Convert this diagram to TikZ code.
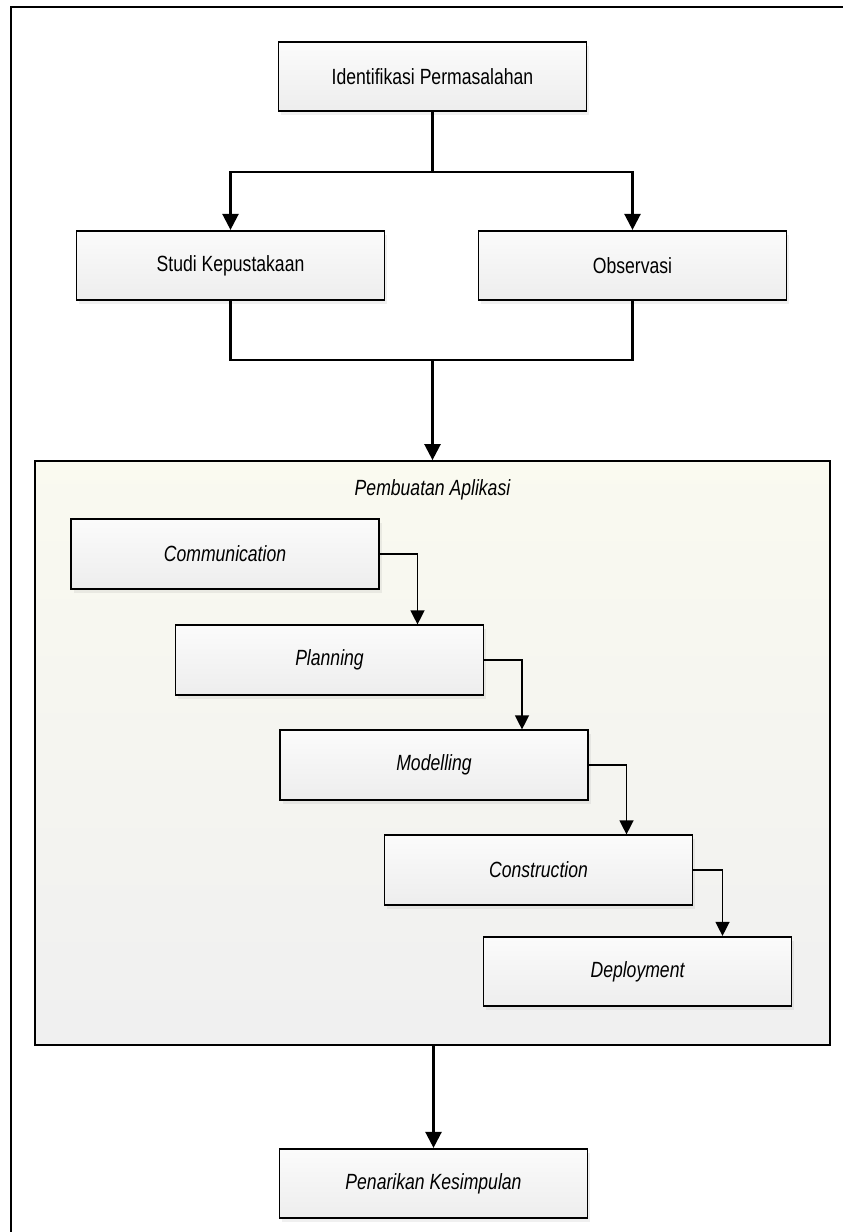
\documentclass[tikz,border=0pt]{standalone}
\usepackage{fontspec}
\setmainfont[FakeStretch=0.8]{Liberation Sans}
\usepackage{tikz}
\usetikzlibrary{
    arrows.meta,
    shadows,
    calc
}

\begin{document}
\begin{tikzpicture}[x=0.75pt,y=-0.75pt,line width=1.8pt,
    >={Triangle[width=12pt,length=12pt]},
    font=\fontsize{16.5}{19}\selectfont]
    \tikzstyle{proses}=[rectangle, draw, line width=1.4pt, minimum width=231pt, minimum height=52pt,
        top color=white!97!gray, bottom color=black!7,
        drop shadow={opacity=0.12, shadow xshift=2pt, shadow yshift=-3pt}]
    \tikzstyle{wadah}=[rectangle, draw, line width=1.3pt, minimum width=596pt, minimum height=438pt,
        top color=white!96!olive, bottom color=black!6]
    \tikzstyle{alur}=[line width=1pt, ->, >={Triangle[width=10.5pt,length=10.5pt]}]
    \useasboundingbox (0,0) rectangle (843,1232);
    % frame
    \draw[line width=2pt] (11,1232) -- (11,7) -- (843,7);
    \node[proses] (idp) at (432.5, 76.5) {Identifikasi Permasalahan};
    \node[proses] (studi) at (230.5, 265.5) {Studi Kepustakaan};
    \node[proses] (obs) at (632.5, 265.5) {Observasi};
    \node[wadah] (app) at (432.5, 753) {};
    \node (judul) at (432.5, 490) {\itshape Pembuatan Aplikasi};
    \node[proses] (comm) at (225, 554) {\itshape Communication};
    \node[proses] (plan) at (329.5, 660) {\itshape Planning};
    \node[proses] (model) at (434, 765) {\itshape Modelling};
    \node[proses] (cons) at (538.5, 870) {\itshape Construction};
    \node[proses] (deploy) at (637.5, 971.5) {\itshape Deployment};
    \node[proses] (simpul) at (433.5, 1183.5) {\itshape Penarikan Kesimpulan};
    \coordinate (c1) at (432.5, 172);
    \coordinate (c2) at (432.5, 360);
    % main flow
    \draw (idp.south) -- (c1);
    \draw[->] (c1) -| (studi.north);
    \draw[->] (c1) -| (obs.north);
    \draw (studi.south) |- (c2) -| (obs.south);
    \draw[->] (c2) -- (app.north);
    \draw[->] (app.south -| simpul.north) -- (simpul.north);
    % waterfall
    \draw[alur] (comm.east) -| ($(plan.north)+(88,0)$);
    \draw[alur] (plan.east) -| ($(model.north)+(88,0)$);
    \draw[alur] (model.east) -| ($(cons.north)+(88,0)$);
    \draw[alur] (cons.east) -| ($(deploy.north)+(85,0)$);
\end{tikzpicture}
\end{document}
